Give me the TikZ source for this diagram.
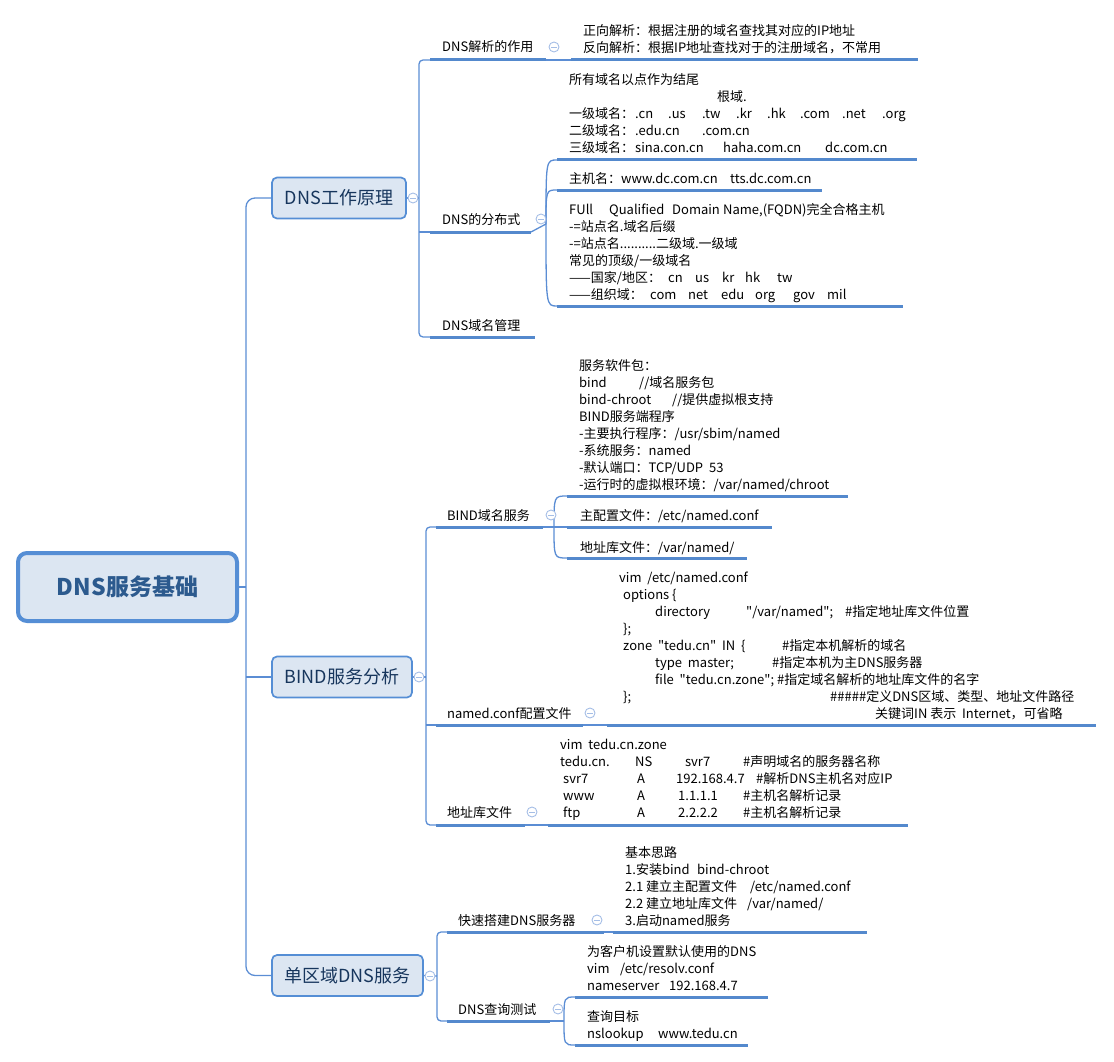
\documentclass[tikz,border=0pt]{standalone}
\usepackage{fontspec}
\setmainfont{Noto Sans CJK SC}[Ligatures=TeXOff]
\usetikzlibrary{calc}
\definecolor{linec}{RGB}{91,141,212}
\definecolor{ulc}{RGB}{84,137,205}
\definecolor{mainb}{RGB}{85,142,213}
\definecolor{mainf}{RGB}{220,230,242}
\definecolor{maint}{RGB}{23,54,93}
\definecolor{roott}{RGB}{44,90,142}
\definecolor{collc}{RGB}{165,190,230}
\begin{document}
\begin{tikzpicture}[x=1pt,y=-1pt,
  conn/.style={draw=linec, line width=1.3pt},
  uline/.style={draw=ulc, line width=3pt},
  mainbox/.style={draw=mainb, fill=mainf, line width=1.7pt, rounded corners=5pt,
    minimum height=41pt, inner sep=0pt, text=maint, font=\fontsize{18}{20}\selectfont},
  rootbox/.style={draw=mainb, fill=mainf, line width=4pt, rounded corners=9pt,
    minimum height=68pt, minimum width=219pt, inner sep=0pt, text=roott,
    font=\fontsize{23}{26}\selectfont\bfseries},
  foldmark/.style={circle, draw=collc, fill=white, line width=0.9pt, minimum size=10pt, inner sep=0pt,
    path picture={\draw[collc, line width=0.9pt] ([xshift=-2.6pt]path picture bounding box.center) -- ([xshift=2.6pt]path picture bounding box.center);}},
  lbl/.style={anchor=base west, inner sep=0pt, align=left, font=\fontsize{13}{17}\selectfont}
]
\useasboundingbox (0,0) rectangle (1114,1062);

% ---------------- root and main topics
\node[rootbox] (root) at (127.5,587) {DNS服务基础};
\node[mainbox, minimum width=134pt] (m1) at (339,198) {DNS工作原理};
\node[mainbox, minimum width=140pt] (m2) at (342,677) {BIND服务分析};
\node[mainbox, minimum width=151pt] (m3) at (347.5,975.5) {单区域DNS服务};

\coordinate (rv) at (246,587);
\draw[conn] (root.east) -- (rv);
\draw[conn, rounded corners=9pt] (m1.west) -| (rv) |- (m3.west);
\draw[conn] (rv |- m2.west) -- (m2.west);

% ---------------- group A : DNS工作原理
\coordinate (av) at (419,198);
\coordinate (a1L) at (430,60);  \coordinate (a1R) at (546,60);
\coordinate (a2L) at (430,232); \coordinate (a2R) at (531,232);
\coordinate (a3L) at (430,337); \coordinate (a3R) at (535,337);
\draw[conn] (m1.east) -- (av);
\draw[conn, rounded corners=4pt] (a1L) -| (av) |- (a3L);
\draw[conn] (av |- a2L) -- (a2L);
\draw[uline] (a1L) -- (a1R);
\draw[uline] (a2L) -- (a2R);
\draw[uline] (a3L) -- (a3R);
\node[lbl] (a1) at (442,52) {DNS解析的作用};
\node[lbl] (a2) at (442,224) {DNS的分布式};
\node[lbl] (a3) at (442,330) {DNS域名管理};

% a1 child
\coordinate (c11L) at (571,60); \coordinate (c11R) at (918,60);
\draw[conn] (a1R) -- (c11L);
\draw[uline] (c11L) -- (c11R);
\node[lbl] (c11) at (583,53) {正向解析：根据注册的域名查找其对应的IP地址\\反向解析：根据IP地址查找对于的注册域名，不常用};

% a2 children
\coordinate (a2o) at (546,224);
\coordinate (c21L) at (557,160); \coordinate (c21R) at (917,160);
\coordinate (c22L) at (557,190); \coordinate (c22R) at (822,190);
\coordinate (c23L) at (557,306); \coordinate (c23R) at (903,306);
\draw[conn] (a2R) -- (a2o);
\foreach \c in {c21L,c22L,c23L} \draw[conn] (a2o) .. controls (a2o |- \c) .. (\c);
\draw[uline] (c21L) -- (c21R);
\draw[uline] (c22L) -- (c22R);
\draw[uline] (c23L) -- (c23R);
\node[lbl] (c21) at (569,153) {所有域名以点作为结尾\\
\hspace*{148pt}根域.\\
\makebox[66pt][l]{一级域名：}\makebox[33pt][l]{.cn}\makebox[34pt][l]{.us}\makebox[34pt][l]{.tw}\makebox[31pt][l]{.kr}\makebox[33pt][l]{.hk}\makebox[42pt][l]{.com}\makebox[40pt][l]{.net}.org\\
\makebox[66pt][l]{二级域名：}\makebox[67pt][l]{.edu.cn}.com.cn\\
\makebox[66pt][l]{三级域名：}\makebox[88pt][l]{sina.con.cn}\makebox[102pt][l]{haha.com.cn}dc.com.cn};
\node[lbl] (c22) at (569,183) {\makebox[52pt][l]{主机名：}\makebox[109pt][l]{www.dc.com.cn}tts.dc.com.cn};
\node[lbl] (c23) at (569,299) {\makebox[40pt][l]{FUll}\makebox[63pt][l]{Qualified}\makebox[51pt][l]{Domain}Name,(FQDN)完全合格主机\\
-=站点名.域名后缀\\
-=站点名..........二级域.一级域\\
常见的顶级/一级域名\\
\makebox[99pt][l]{——国家/地区：}\makebox[27pt][l]{cn}\makebox[27pt][l]{us}\makebox[23pt][l]{kr}\makebox[32pt][l]{hk}tw\\
\makebox[81pt][l]{——组织域：}\makebox[38pt][l]{com}\makebox[33pt][l]{net}\makebox[34pt][l]{edu}\makebox[38pt][l]{org}\makebox[34pt][l]{gov}mil};

% ---------------- group B : BIND服务分析
\coordinate (bv) at (426,677);
\coordinate (b1L) at (436,527); \coordinate (b1R) at (543,527);
\coordinate (b2L) at (436,725); \coordinate (b2R) at (583,725);
\coordinate (b3L) at (436,825); \coordinate (b3R) at (525,825);
\draw[conn] (m2.east) -- (bv);
\draw[conn, rounded corners=4pt] (b1L) -| (bv) |- (b3L);
\draw[conn] (bv |- b2L) -- (b2L);
\draw[uline] (b1L) -- (b1R);
\draw[uline] (b2L) -- (b2R);
\draw[uline] (b3L) -- (b3R);
\node[lbl] (b1) at (447,520) {BIND域名服务};
\node[lbl] (b2) at (447,718) {named.conf配置文件};
\node[lbl] (b3) at (447,817) {地址库文件};

% b1 children
\coordinate (b1o) at (554,527);
\coordinate (d11L) at (567,496); \coordinate (d11R) at (848,496);
\coordinate (d12L) at (567,527); \coordinate (d12R) at (772,527);
\coordinate (d13L) at (567,558); \coordinate (d13R) at (747,558);
\draw[conn] (b1R) -- (b1o);
\foreach \c in {d11L,d12L,d13L} \draw[conn] (b1o) .. controls (b1o |- \c) .. (\c);
\draw[uline] (d11L) -- (d11R);
\draw[uline] (d12L) -- (d12R);
\draw[uline] (d13L) -- (d13R);
\node[lbl] (d11) at (579,489) {服务软件包：\\
\makebox[60pt][l]{bind}//域名服务包\\
\makebox[93pt][l]{bind-chroot}//提供虚拟根支持\\
BIND服务端程序\\
-主要执行程序：/usr/sbim/named\\
-系统服务：named\\
-默认端口：TCP/UDP\ \ 53\\
-运行时的虚拟根环境：/var/named/chroot};
\node[lbl] (d12) at (580,520) {主配置文件：/etc/named.conf};
\node[lbl] (d13) at (580,552) {地址库文件：/var/named/};

% b2 child
\coordinate (d21L) at (607,725); \coordinate (d21R) at (1096,725);
\draw[conn] (b2R) -- (d21L);
\draw[uline] (d21L) -- (d21R);
\node[lbl] (d21) at (619,718) {vim\ \ /etc/named.conf\\
\hspace*{4pt}options \{\\
\hspace*{36pt}\makebox[91pt][l]{directory}\makebox[99pt][l]{"/var/named";}\#指定地址库文件位置\\
\hspace*{4pt}\};\\
\hspace*{4pt}\makebox[159pt][l]{zone\ \ "tedu.cn"\ \ IN\ \ \{}\#指定本机解析的域名\\
\hspace*{36pt}\makebox[117pt][l]{type\ \ master;}\#指定本机为主DNS服务器\\
\hspace*{36pt}file\ \ "tedu.cn.zone";\ \#指定域名解析的地址库文件的名字\\
\hspace*{4pt}\makebox[207pt][l]{\};}\#\#\#\#\#定义DNS区域、类型、地址文件路径\\
\hspace*{256pt}关键词IN 表示\ \ Internet，可省略};

% b3 child
\coordinate (d31L) at (548,825); \coordinate (d31R) at (908,825);
\draw[conn] (b3R) -- (d31L);
\draw[uline] (d31L) -- (d31R);
\node[lbl] (d31) at (560,817) {vim\ \ tedu.cn.zone\\
\makebox[75pt][l]{tedu.cn.}\makebox[47pt][l]{NS}\makebox[61pt][l]{\ svr7}\#声明域名的服务器名称\\
\hspace*{3pt}\makebox[74pt][l]{svr7}\makebox[39pt][l]{A}\makebox[80pt][l]{192.168.4.7}\#解析DNS主机名对应IP\\
\hspace*{3pt}\makebox[74pt][l]{www}\makebox[41pt][l]{A}\makebox[65pt][l]{1.1.1.1}\#主机名解析记录\\
\hspace*{3pt}\makebox[74pt][l]{ftp}\makebox[41pt][l]{A}\makebox[65pt][l]{2.2.2.2}\#主机名解析记录};

% ---------------- group C : 单区域DNS服务
\coordinate (cv) at (437,976);
\coordinate (e1L) at (447,932); \coordinate (e1R) at (604,932);
\coordinate (e2L) at (447,1021); \coordinate (e2R) at (550,1021);
\draw[conn] (m3.east) -- (cv);
\draw[conn, rounded corners=4pt] (e1L) -| (cv) |- (e2L);
\draw[uline] (e1L) -- (e1R);
\draw[uline] (e2L) -- (e2R);
\node[lbl] (e1) at (458,925) {快速搭建DNS服务器};
\node[lbl] (e2) at (458,1014) {DNS查询测试};

% e1 child
\coordinate (g1L) at (613,932); \coordinate (g1R) at (867,932);
\draw[conn] (e1R) -- (g1L);
\draw[uline] (g1L) -- (g1R);
\node[lbl] (g1) at (625,925) {基本思路\\
\makebox[72pt][l]{1.安装bind}bind-chroot\\
\makebox[125pt][l]{2.1 建立主配置文件}/etc/named.conf\\
\makebox[122pt][l]{2.2 建立地址库文件}/var/named/\\
3.启动named服务};

% e2 children
\coordinate (e2o) at (564,1021);
\coordinate (f1L) at (575,997); \coordinate (f1R) at (768,997);
\coordinate (f2L) at (575,1045); \coordinate (f2R) at (748,1045);
\draw[conn] (e2R) -- (e2o);
\foreach \c in {f1L,f2L} \draw[conn] (e2o) .. controls (e2o |- \c) .. (\c);
\draw[uline] (f1L) -- (f1R);
\draw[uline] (f2L) -- (f2R);
\node[lbl] (f1) at (587,990) {为客户机设置默认使用的DNS\\
\makebox[33pt][l]{vim}/etc/resolv.conf\\
\makebox[82pt][l]{nameserver}192.168.4.7};
\node[lbl] (f2) at (587,1038) {查询目标\\
\makebox[71pt][l]{nslookup}www.tedu.cn};

% ---------------- fold marks
\node[foldmark] (k1) at (413,198) {};
\node[foldmark] (k2) at (419,677) {};
\node[foldmark] (k3) at (430,976) {};
\node[foldmark] (ka1) at (554,47) {};
\node[foldmark] (ka2) at (541,219) {};
\node[foldmark] (kb1) at (551,515) {};
\node[foldmark] (kb2) at (590,713) {};
\node[foldmark] (kb3) at (532,812) {};
\node[foldmark] (ke1) at (597,920) {};
\node[foldmark] (ke2) at (558,1009) {};
\end{tikzpicture}
\end{document}
